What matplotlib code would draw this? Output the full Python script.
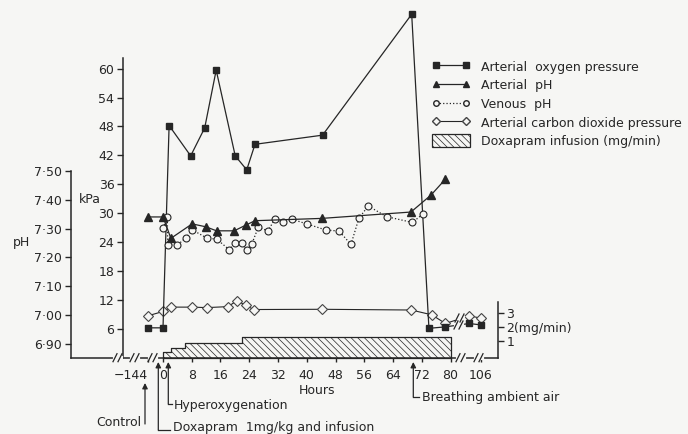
import numpy as np
import matplotlib
matplotlib.use('Agg')
import matplotlib.pyplot as plt
from matplotlib.lines import Line2D
from matplotlib.patches import Patch

W, H = 688, 434
BG = '#f6f6f4'
INK = '#262626'

# arterial oxygen pressure (kPa)
o2_hours = [-144, 0, 1.7, 7.7, 11.6, 14.8, 20.1, 23.3, 25.6, 44.4, 69.2, 74.0, 78.6, 96, 106]
o2_kpa = [6.2, 6.2, 48.2, 41.9, 47.7, 59.7, 41.9, 39.0, 44.3, 46.2, 71.3, 6.1, 6.4, 7.1, 6.8]

# arterial pH
art_hours = [-144, 0, 2.2, 8.1, 11.9, 14.9, 19.8, 23.1, 25.6, 44.2, 69.0, 74.6, 78.6]
art_ph = [7.34, 7.34, 7.266, 7.316, 7.306, 7.292, 7.292, 7.312, 7.327, 7.335, 7.357, 7.416, 7.471]

# venous pH
ven_hours = [0, 1.2, 1.3, 4.0, 6.3, 8.2, 12.2, 15.0, 18.4, 20.0, 21.9, 23.3, 24.7, 26.5,
             29.2, 31.2, 33.5, 35.9, 40.0, 45.3, 49.0, 52.3, 54.5, 57.1, 62.2, 69.4, 72.3]
ven_ph = [7.301, 7.339, 7.243, 7.243, 7.267, 7.295, 7.267, 7.263, 7.227, 7.249, 7.249, 7.226, 7.246, 7.304,
          7.292, 7.334, 7.321, 7.332, 7.316, 7.295, 7.291, 7.245, 7.335, 7.378, 7.341, 7.321, 7.350]

# arterial carbon dioxide pressure (kPa)
co2_hours = [-144, 0, 2.3, 8.0, 12.2, 18.0, 20.6, 23.0, 25.2, 44.2, 69.1, 74.8, 78.6, 96, 106]
co2_kpa = [8.7, 9.6, 10.5, 10.5, 10.4, 10.6, 11.8, 10.9, 10.0, 10.05, 9.9, 8.9, 7.1, 8.7, 8.2]

# doxapram infusion (mg/min)
dox_hours = [0, 2.3, 6.2, 22.0, 80]
dox_rate = [0.2, 0.53, 0.88, 1.3, 1.3]

x_ticks = [-144, 0, 8, 16, 24, 32, 40, 48, 56, 64, 72, 80, 106]
kpa_ticks = [6, 12, 18, 24, 30, 36, 42, 48, 54, 60]
ph_ticks = [6.9, 7.0, 7.1, 7.2, 7.3, 7.4, 7.5]

# broken time axis: hours -> pixel column
KH = [-144, 0, 80, 106]
KP = [148, 163, 450.5, 481]
SLOPE = (KP[2] - KP[1]) / (KH[2] - KH[1])


def fwd(h):
    h = np.asarray(h, float)
    p = np.interp(h, KH, KP)
    p = np.where(h < KH[0], KP[0] + (h - KH[0]) * SLOPE, p)
    p = np.where(h > KH[-1], KP[-1] + (h - KH[-1]) * SLOPE, p)
    return p


def inv(p):
    p = np.asarray(p, float)
    h = np.interp(p, KP, KH)
    h = np.where(p < KP[0], KH[0] + (p - KP[0]) / SLOPE, h)
    h = np.where(p > KP[-1], KH[-1] + (p - KP[-1]) / SLOPE, h)
    return h


def kpa_of(py):
    return (357.7 - py) / 4.817


def ph_of(kpa):
    return 6.853 + kpa / 60.0


def mg_of(kpa):
    return (kpa - 0.53) / 2.94


def P(x, y):
    return (x / W, 1 - y / H)


plt.rcParams['font.family'] = 'DejaVu Sans'
plt.rcParams['hatch.linewidth'] = 0.5
plt.rcParams['hatch.color'] = '#555555'

fig = plt.figure(figsize=(W / 100, H / 100), dpi=100, facecolor=BG)
ax = fig.add_axes([0, 0, 1, 1])
ax.patch.set_visible(False)
ax.set_xscale('function', functions=(fwd, inv))
ax.set_xlim(float(inv(0)), float(inv(W)))
klo, khi = kpa_of(H), kpa_of(0)
ax.set_ylim(klo, khi)

ax_ph = ax.twinx()
ax_ph.set_ylim(ph_of(klo), ph_of(khi))
ax_mg = ax.twinx()
ax_mg.set_ylim(mg_of(klo), mg_of(khi))

for a in (ax, ax_ph, ax_mg):
    for s in a.spines.values():
        s.set_visible(False)
        s.set_color(INK)
        s.set_linewidth(1.1)

# kPa axis
ax.spines['left'].set_visible(True)
ax.spines['left'].set_position(('axes', 122.7 / W))
ax.spines['left'].set_bounds(0, kpa_of(57.7))
ax.set_yticks(kpa_ticks)
ax.tick_params(axis='y', direction='out', length=4, width=1, labelsize=9, pad=2,
               colors=INK)

# time axis
ax.spines['bottom'].set_visible(True)
ax.spines['bottom'].set_position(('data', 0))
ax.spines['bottom'].set_bounds(float(inv(70.7)), float(inv(498)))
ax.set_xticks(x_ticks)
ax.set_xticklabels(['\u2212144'] + [str(t) for t in x_ticks[1:]])
ax.get_xticklabels()[0].set_ha('right')
ax.tick_params(axis='x', direction='out', length=3, width=1, labelsize=9, pad=5,
               colors=INK)
ax.minorticks_off()

# pH axis
ax_ph.spines['left'].set_visible(True)
ax_ph.spines['left'].set_position(('axes', 70.7 / W))
ax_ph.spines['left'].set_bounds(ph_of(0), 7.5)
ax_ph.yaxis.set_ticks_position('left')
ax_ph.set_yticks(ph_ticks)
ax_ph.set_yticklabels([f'{v:.2f}'.replace('.', '\u00b7') for v in ph_ticks])
ax_ph.tick_params(axis='y', direction='out', length=4, width=1, labelsize=9, pad=2,
                  colors=INK)

# infusion axis
ax_mg.spines['right'].set_visible(True)
ax_mg.spines['right'].set_position(('axes', 498 / W))
ax_mg.spines['right'].set_bounds(mg_of(0), 3.78)
ax_mg.set_yticks([1, 2, 3])
ax_mg.set_yticklabels(['1', '2(mg/min)', '3'])
ax_mg.tick_params(axis='y', direction='out', length=4, width=1, labelsize=9, pad=2,
                  colors=INK)

# data
ax_mg.fill_between(dox_hours, dox_rate, mg_of(0), step='post', facecolor='none',
                   edgecolor=INK, hatch='\\\\\\\\\\', lw=0.9, zorder=1)
ax.plot(co2_hours, co2_kpa, color=INK, lw=0.8, marker='D', ms=4.6, mfc=BG, mec='#444444',
        mew=0.8, zorder=3)
ax.plot(o2_hours, o2_kpa, color=INK, lw=0.9, marker='s', ms=5, zorder=4)
ax_ph.plot(ven_hours, ven_ph, color=INK, lw=0.9, ls=':', marker='o', ms=5, mfc=BG,
           mec=INK, mew=0.8, zorder=3)
ax_ph.plot(art_hours, art_ph, color=INK, lw=0.9, marker='^', ms=5.5, zorder=4)


# axis and line breaks
def brk(x, y):
    fig.add_artist(Line2D([P(x - 3, y)[0], P(x + 3, y)[0]], [P(x, y)[1]] * 2,
                          transform=fig.transFigure, color=BG, lw=3, zorder=10))
    for dx in (-3, 2):
        x0, y0 = P(x + dx - 2, y + 4)
        x1, y1 = P(x + dx + 2, y - 4)
        fig.add_artist(Line2D([x0, x1], [y0, y1], transform=fig.transFigure,
                              color=INK, lw=0.9, zorder=11))


for bx in (118, 135, 153, 461, 479):
    brk(bx, 357.7)
brk(459, 325)
brk(460, 318)

# axis titles
fig.text(*P(317, 391), 'Hours', ha='center', va='center', fontsize=9, color=INK)
fig.text(*P(79, 199), 'kPa', ha='left', va='center', fontsize=9, color=INK)
fig.text(*P(13, 243), 'pH', ha='left', va='center', fontsize=9, color=INK)


# event arrows
def event(x, tip, base, text, tx, ty, ha='left', hook=None):
    ax.annotate('', xy=P(x, tip), xytext=P(x, base), xycoords='figure fraction',
                textcoords='figure fraction',
                arrowprops=dict(arrowstyle='-|>', color=INK, lw=0.9, mutation_scale=8,
                                shrinkA=0, shrinkB=0))
    if hook is not None:
        fig.add_artist(Line2D([P(x, base)[0], P(hook, base)[0]], [P(x, base)[1]] * 2,
                              transform=fig.transFigure, color=INK, lw=0.9))
    fig.text(*P(tx, ty), text, ha=ha, va='center', fontsize=9, color=INK)


event(145, 383, 424, 'Control', 141, 422, ha='right')
event(158.3, 362, 430, 'Doxapram  1mg/kg and infusion', 173, 428, hook=170)
event(168.3, 362, 404, 'Hyperoxygenation', 174, 405, hook=172)
event(413.3, 362, 397, 'Breathing ambient air', 421.7, 398, hook=419)

# legend
handles = [
    Line2D([], [], color=INK, lw=0.9, marker='s', ms=4),
    Line2D([], [], color=INK, lw=0.9, marker='^', ms=4.5),
    Line2D([], [], color=INK, lw=0.9, ls=':', marker='o', ms=4, mfc=BG),
    Line2D([], [], color=INK, lw=0.8, marker='D', ms=4, mfc=BG, mec='#444444'),
    Patch(facecolor='none', edgecolor=INK, hatch='\\\\\\\\\\', lw=0.9),
]
labels = ['Arterial  oxygen pressure', 'Arterial  pH', 'Venous  pH',
          'Arterial carbon dioxide pressure', 'Doxapram infusion (mg/min)']
leg = fig.legend(handles, labels, loc='upper left', bbox_to_anchor=P(432, 60),
                 bbox_transform=fig.transFigure, frameon=False, fontsize=9,
                 numpoints=2, handlelength=3.0, handleheight=1.25, handletextpad=0.9,
                 labelspacing=0.38, borderpad=0, borderaxespad=0)
for t in leg.get_texts():
    t.set_color(INK)

fig.savefig('out.png', dpi=100, facecolor=BG)
